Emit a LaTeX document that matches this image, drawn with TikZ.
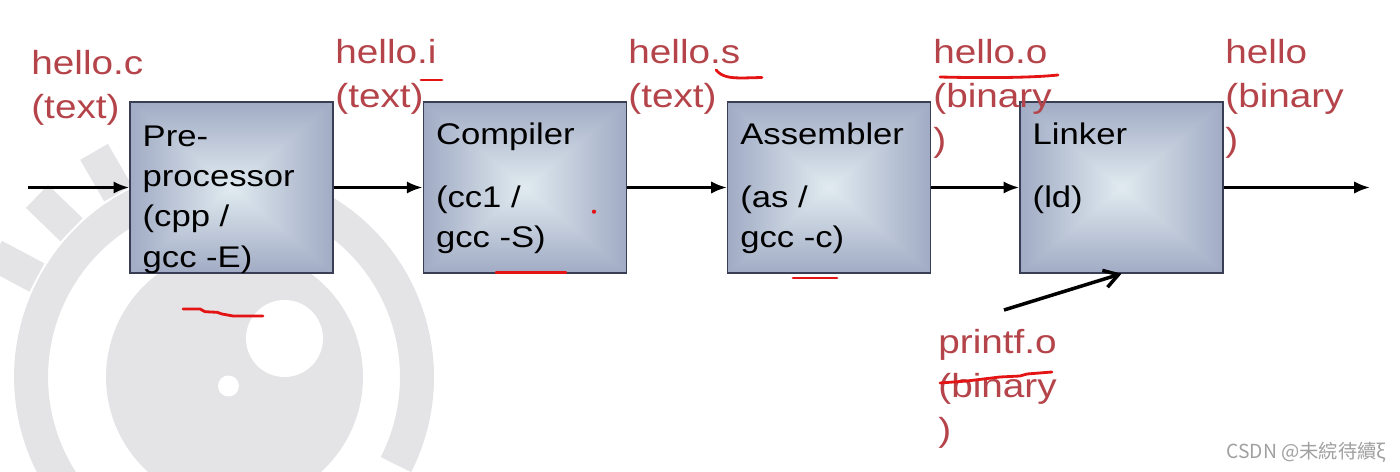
\documentclass[tikz,border=0pt]{standalone}
\usepackage{fontspec}
\setmainfont{Liberation Sans}
\newfontfamily\widesans[FakeStretch=1.16]{Liberation Sans}
\newfontfamily\cjksans{Noto Sans CJK TC}
\usetikzlibrary{positioning,arrows.meta,calc}

\definecolor{labelred}{RGB}{180,68,74}
\definecolor{penred}{RGB}{228,20,20}
\definecolor{logogray}{RGB}{228,228,231}
\definecolor{boxedge}{RGB}{58,62,84}
\definecolor{csdngray}{RGB}{160,160,160}

% light centre, slate-blue rim, square falloff
\pgfdeclarefunctionalshading{stageglow}{\pgfpoint{-50bp}{-50bp}}{\pgfpoint{50bp}{50bp}}{}{
  abs exch abs 2 copy sub abs 3 1 roll add add 100 div
  dup dup -0.50 mul 0.88 add
  exch -0.50 mul 0.92 add
  3 2 roll -0.34 mul 0.94 add
}

\newcommand\stacktext[1]{\parbox[t]{5cm}{\raggedright #1}}

\tikzset{
  stage/.style={draw=boxedge, line width=0.8pt, shading=stageglow,
    minimum width=4.06cm, minimum height=3.42cm, inner sep=0pt},
  stagetext/.style={font=\widesans\fontsize{17}{22.9}\selectfont, inner sep=0pt, anchor=base west},
  filelabel/.style={text=labelred, font=\widesans\fontsize{19}{25}\selectfont, inner sep=0pt, anchor=base west},
  flow/.style={line width=1.6pt, -{Latex[length=9pt,width=7pt]}},
  linkflow/.style={line width=2pt, -{Straight Barb[length=8pt,width=10pt]}},
  pen/.style={penred, line width=1.6pt, line cap=round, line join=round},
  logo/.style={logogray}
}

\begin{document}
\begin{tikzpicture}[x=0.02cm, y=-0.02cm]
    \useasboundingbox (0,0) rectangle (1400,472);

    % watermark in the background
    \fill[logo] (234.5,377) circle[radius=2.57cm];
    \fill[white] (284.5,338.5) circle[radius=0.77cm];
    \fill[white] (228.5,386) circle[radius=0.21cm];
    \draw[logo, line width=0.68cm] ([shift={(-27:3.86cm)}]224,377) arc[start angle=-27, end angle=250, radius=3.86cm];
    \foreach \ang in {120,136,152}
        \draw[logo, line width=0.64cm] ([shift={(\ang:4.24cm)}]224,377) -- ([shift={(\ang:5.2cm)}]224,377);

    % the four stages
    \node[stage] (cpp) at (231.5,187.5) {};
    \node[stage, right=1.78cm of cpp] (cc1) {};
    \node[stage, right=2cm of cc1] (as) {};
    \node[stage, right=1.76cm of as] (ld) {};

    \node[stagetext] (cpp-txt) at ($(cpp.north west)+(13,45)$) {\stacktext{Pre-\\processor\\(cpp /\\gcc -E)}};
    \node[stagetext] (cc1-txt) at ($(cc1.north west)+(13,43)$) {\stacktext{Compiler\\[13pt](cc1 /\\gcc -S)}};
    \node[stagetext] (as-txt) at ($(as.north west)+(13,43)$) {\stacktext{Assembler\\[13pt](as /\\gcc -c)}};
    \node[stagetext] (ld-txt) at ($(ld.north west)+(13,43)$) {\stacktext{Linker\\[13pt](ld)}};

    \coordinate (in) at (28,187.5);
    \coordinate (out) at (1370,187.5);
    \coordinate (pf-tail) at (1004,310);

    \draw[flow] (in) -- (cpp.west);
    \draw[flow] (cpp.east) -- (cc1.west);
    \draw[flow] (cc1.east) -- (as.west);
    \draw[flow] (as.east) -- (ld.west);
    \draw[flow] (ld.east) -- (out);
    \draw[linkflow] (pf-tail) -- (ld.south);

    % file names
    \node[filelabel] (c-lbl) at (31,75) {\stacktext{hello.c\\(text)}};
    \node[filelabel] (i-lbl) at (335,64) {\stacktext{hello.i\\(text)}};
    \node[filelabel] (s-lbl) at (628,64) {\stacktext{hello.s\\(text)}};
    \node[filelabel] (o-lbl) at (933,64) {\stacktext{hello.o\\(binary\\)}};
    \node[filelabel] (exe-lbl) at (1225,64) {\stacktext{hello\\(binary\\)}};
    \node[filelabel] (pf-lbl) at (938,354) {\stacktext{printf.o\\(binary\\)}};

    % pen marks
    \draw[pen] (421,80) -- (442,80);
    \draw[pen] (716,70) .. controls (722,77) and (730,78) .. (743,78) -- (762,77.5);
    \draw[pen] (940,77) .. controls (980,78) and (1030,78) .. (1058,75);
    \draw[pen] (496,272.5) -- (566,272.5);
    \draw[pen] (793,278) -- (837,278);
    \draw[pen] (183,309) -- (200,309) -- (205,311.7) -- (217,312.3) -- (222,314) -- (233,316) -- (263,316);
    \draw[pen] (940,383) -- (967,381) -- (1000,377) -- (1020,376) -- (1027,374) -- (1052,372);
    \fill[penred] (594,211.7) circle[radius=1.2pt];

    \node[text=csdngray, font=\cjksans\fontsize{11}{13}\selectfont, inner sep=0pt, anchor=base west] (csdn) at (1226,459) {CSDN @未綄待續ξ};
\end{tikzpicture}
\end{document}
